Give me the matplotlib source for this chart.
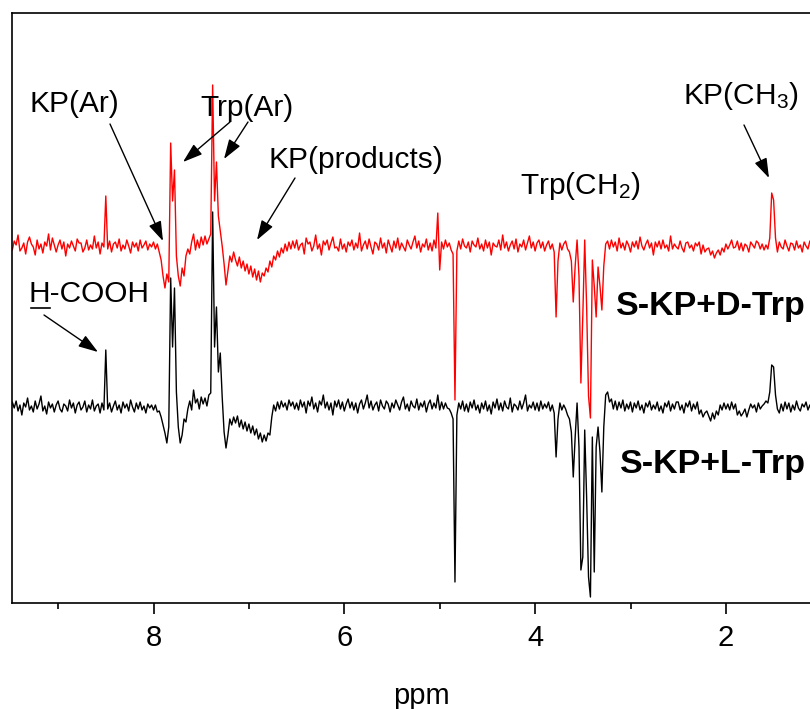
import numpy as np
import matplotlib
matplotlib.use("Agg")
import matplotlib.pyplot as plt

plt.rcParams['font.family'] = ['Liberation Sans', 'DejaVu Sans']
plt.rcParams['mathtext.fontset'] = 'custom'
plt.rcParams['mathtext.rm'] = 'Liberation Sans'
plt.rcParams['mathtext.default'] = 'regular'

# ---------------- data ----------------
# Spectra sampled every 0.02 ppm from 9.50 ppm down to 1.00 ppm.
# Each row covers 0.5 ppm (25 samples); intensity relative to each trace's baseline.
ppm_start, ppm_step = 9.50, 0.02

red_rows = [
    [2, -4, 5, 1, 11, -5, -2, 3, -8, 4, 9, 2, -1, -9, 6, -3, 2, -7, 4, 0, 12, -4, 8, 1, -6],         # 9.50
    [1, 6, -3, 4, -10, 2, -2, 5, 0, -5, 7, 3, 3, -6, -2, 6, -4, 1, -3, 10, -2, 4, -8, 3, -1],        # 9.00
    [50, -3, 5, -6, 2, 4, -2, 7, -5, 1, -3, 6, 0, -7, 4, -1, 3, -5, 6, -2, 1, 5, -4, 2, -1],         # 8.50
    [4, -3, 2, -6, -14, -30, -42, -28, -36, 103, 45, 76, -10, -30, -40, -22, -30, -10, -3, -8, 4, 12, -4, 6, -2],  # 8.00
    [9, 1, 10, 2, 7, 12, 161, 45, 84, 30, 15, 0, -18, -39, -25, -10, -16, -6, -14, -20, -11, -22, -15, -25, -18],  # 7.50
    [-28, -20, -31, -23, -34, -25, -36, -27, -30, -22, -26, -15, -21, -10, -14, -5, -11, -2, -7, 2, -5, 4, -3, 5, -2],  # 7.00
    [6, -4, 1, 3, -8, 8, 2, 4, -5, 0, 11, -3, 2, -9, 5, 1, 6, -4, 3, 9, -2, -1, -5, 7, -3],          # 6.50
    [2, -6, 4, 0, 6, -4, 3, -2, 13, -5, 1, 5, -3, 7, -1, -8, 4, 2, -4, 8, -2, 3, -7, 6, 0],          # 6.00
    [-6, 5, -2, 8, -4, 3, -1, -5, 6, 1, -3, 4, 10, -2, 5, -6, 2, -1, 7, -4, 3, -5, 6, -2, 33],       # 5.50
    [-24, 4, -3, 6, -1, 3, -4, -8, -154, -5, 5, -3, 7, 0, -2, 4, -6, 5, 1, -1, 8, -3, 2, -5, 6],     # 5.00
    [-2, 4, -9, 3, 0, -1, 6, -4, 11, -2, 4, -5, 1, 5, -3, 7, -6, 2, -1, 6, -4, 3, 10, -2, 4],        # 4.50
    [-5, 3, 6, -2, 4, -5, 1, 5, -3, 2, -6, -71, -15, 3, -4, 2, 5, -3, -6, -15, -56, -20, 6, -30, -137],  # 4.00
    [-70, 6, -60, -150, -172, -14, -40, -71, -21, -40, -64, -20, 2, 5, -3, 6, -1, 4, -5, 8, -2, 3, -4, 5, 1],  # 3.50
    [-6, 4, -1, 5, -3, 9, 0, -4, 2, 6, -2, 3, -9, 4, -1, 5, -3, 6, -2, 1, -5, 10, -3, 2, -1],        # 3.00
    [-3, 5, -2, -6, 3, 4, -2, 1, -5, 3, 0, 4, -8, 1, -6, -3, -2, -9, -5, -12, -7, -4, -9, -2, -6],   # 2.50
    [2, -3, 1, 6, -2, -1, 5, -4, 3, -5, 2, 0, -6, 4, 1, -2, 5, 3, -3, 2, -4, 1, -3, 8, 53],          # 2.00
    [46, 8, -6, 4, -1, -3, 6, 0, -5, 3, 2, -4, 5, -2, 1, -6, 4, 0, -3, 5, -1, 2, -5, 3, -2],         # 1.50
    [2],                                                                                               # 1.00
]

black_rows = [
    [-3, 5, -1, 6, -4, 2, -8, 4, 0, 9, -3, 1, -5, 6, -2, 3, 11, -4, 1, -7, 5, -1, 3, -5, 2],         # 9.50
    [6, -2, -5, 3, 1, -4, 7, -1, 4, -6, 2, 5, -3, 0, 6, -5, 2, -2, 7, -4, 1, 3, -6, 4, -3],          # 9.00
    [57, -2, 4, -5, 1, 6, -3, 2, -6, 5, -1, 3, -4, 7, 0, -5, 4, -2, 5, -3, 1, -6, 3, -1, 2],         # 8.50
    [-3, 2, -5, -4, -10, -18, -26, -36, -20, 129, 60, 119, 15, -20, -36, -28, -12, -15, -2, 6, -3, 17, 4, 8, -2],  # 8.00
    [10, 3, 9, 1, 12, 14, 195, 60, 100, 35, 54, 10, -25, -41, -28, -12, -18, -10, -16, -9, -20, -13, -22, -15, -24],  # 7.50
    [-17, -26, -19, -28, -22, -32, -26, -35, -28, -34, -26, -28, -10, 2, -4, 5, -2, 6, 0, 4, -3, 7, 1, 5, -2],  # 7.00
    [4, -3, 7, 0, 5, -6, 6, 1, 10, -2, 4, -5, 6, 2, 12, -1, 5, -3, 4, -8, 6, 0, 7, -2, 5],           # 6.50
    [-4, 3, 8, -1, 5, -3, 4, -6, 3, 7, -2, 4, 12, -1, 6, -3, 2, 5, -4, 7, 1, -2, 6, 3, -5],          # 6.00
    [4, -1, 7, 2, -3, 5, 10, -2, 3, -4, 6, 1, -1, 8, -3, 4, 0, 6, -5, 3, 7, -2, 4, -1, 12],          # 5.50
    [-3, 5, -2, 4, -1, -2, -6, -12, -175, -8, 4, -2, 6, -4, 3, -5, 5, -1, 7, -3, 2, -6, 4, -2, 6],   # 5.00
    [-4, 2, -7, 5, -1, 8, -3, 4, -4, 6, 0, -2, 9, -5, 3, 1, -3, 6, -2, 4, 12, -4, 2, -1, 5],         # 4.50
    [-3, 4, -4, 6, -2, 3, -1, 5, -4, 2, -6, -50, -12, 4, -3, 2, -2, -8, -12, -25, -70, -30, 4, -40, -163],  # 4.00
    [-150, -23, -90, -170, -190, -30, -165, -40, -20, -45, -85, -20, 12, 15, 5, 8, -2, 6, -3, 5, -1, 7, -4, 3, -2],  # 3.50
    [5, -5, 4, -1, 6, -3, 2, -6, 4, 0, 6, -3, 2, -2, 5, -4, 1, -6, 4, 0, 6, -4, 3, -2, 5],           # 3.00
    [5, -3, 2, -6, 4, 0, 6, -4, 3, -2, 5, -7, -3, -10, -6, -4, -9, -14, -6, -12, -4, -8, 2, -3, 4],  # 2.50
    [-2, 3, -3, 5, -2, 3, -8, -4, -9, -6, -2, -10, -3, 3, -1, 2, -5, 4, -2, 1, 3, 6, 4, 15, 42],     # 2.00
    [40, 12, -2, -6, 3, -4, 5, -2, 4, -5, 2, -3, 6, -1, -4, 3, 0, 5, -3, 2, -5, 4, -1, 3, -2],       # 1.50
    [3],                                                                                               # 1.00
]

major_ticks = [8, 6, 4, 2]
minor_ticks = [9, 7, 5, 3]
red_name = "S-KP+D-Trp"
black_name = "S-KP+L-Trp"

# ---------------- layout / styles ----------------
RED_OFFSET = 357
BLACK_OFFSET = 196

W, H = 810, 709
fig = plt.figure(figsize=(W / 100, H / 100), dpi=100)
ax_left, ax_right, ax_top, ax_bottom = 12, 830, 13, 603
ax = fig.add_axes([ax_left / W, (H - ax_bottom) / H,
                   (ax_right - ax_left) / W, (ax_bottom - ax_top) / H])

def trace(rows):
    vals = np.concatenate([np.asarray(r, dtype=float) for r in rows])
    ppm = ppm_start - ppm_step * np.arange(len(vals))
    return ppm, vals

bx, by = trace(black_rows)
rx, ry = trace(red_rows)
ax.plot(bx, by + BLACK_OFFSET, color='black', lw=1.0)
ax.plot(rx, ry + RED_OFFSET, color='red', lw=1.0)

# x scale: 8 ppm at px 153.5, 95.4 px per ppm
def px2ppm(px):
    return 8 - (px - 153.5) / 95.4

ax.set_xlim(px2ppm(ax_left), px2ppm(ax_right))
ax.set_ylim(0, ax_bottom - ax_top)

ax.set_xticks(major_ticks)
ax.set_xticks(minor_ticks, minor=True)
ax.tick_params(axis='x', which='major', direction='out', length=8, width=1.2,
               labelsize=21, pad=7)
ax.tick_params(axis='x', which='minor', direction='out', length=4.5, width=1.2)
ax.set_yticks([])
for s in ax.spines.values():
    s.set_linewidth(1.2)
ax.set_xlabel('ppm', fontsize=21, labelpad=22)

def P(px, py):
    return (px2ppm(px), ax_bottom - py)

fs = 21.5
ax.text(*P(74, 104), 'KP(Ar)', fontsize=fs, ha='center', va='center')
ax.text(*P(247, 108), 'Trp(Ar)', fontsize=fs, ha='center', va='center')
ax.text(*P(356, 160), 'KP(products)', fontsize=fs, ha='center', va='center')
ax.text(*P(580, 186), 'Trp(CH$_2$)', fontsize=fs, ha='center', va='center')
ax.text(*P(741, 96), 'KP(CH$_3$)', fontsize=fs, ha='center', va='center')
ax.text(*P(89, 294), 'H-COOH', fontsize=fs, ha='center', va='center')
ax.plot([px2ppm(31), px2ppm(50)], [ax_bottom - 308] * 2, color='black', lw=1.2)

ax.text(*P(616, 306), red_name, fontsize=24.5, fontweight='bold', ha='left', va='center')
ax.text(*P(620, 465), black_name, fontsize=24.5, fontweight='bold', ha='left', va='center')

arrows = [
    ((110, 124), (163, 241)),
    ((230, 122), (183, 162)),
    ((248, 122), (224, 159)),
    ((295, 178), (257, 240)),
    ((744, 125), (769, 178)),
    ((44, 315), (98, 352)),
]
for start, tip in arrows:
    ax.annotate('', xy=P(*tip), xytext=P(*start),
                arrowprops=dict(arrowstyle='-|>,head_length=0.75,head_width=0.25',
                                color='black', lw=1.0, shrinkA=0, shrinkB=0,
                                mutation_scale=16))

fig.savefig('out.png', dpi=100)
